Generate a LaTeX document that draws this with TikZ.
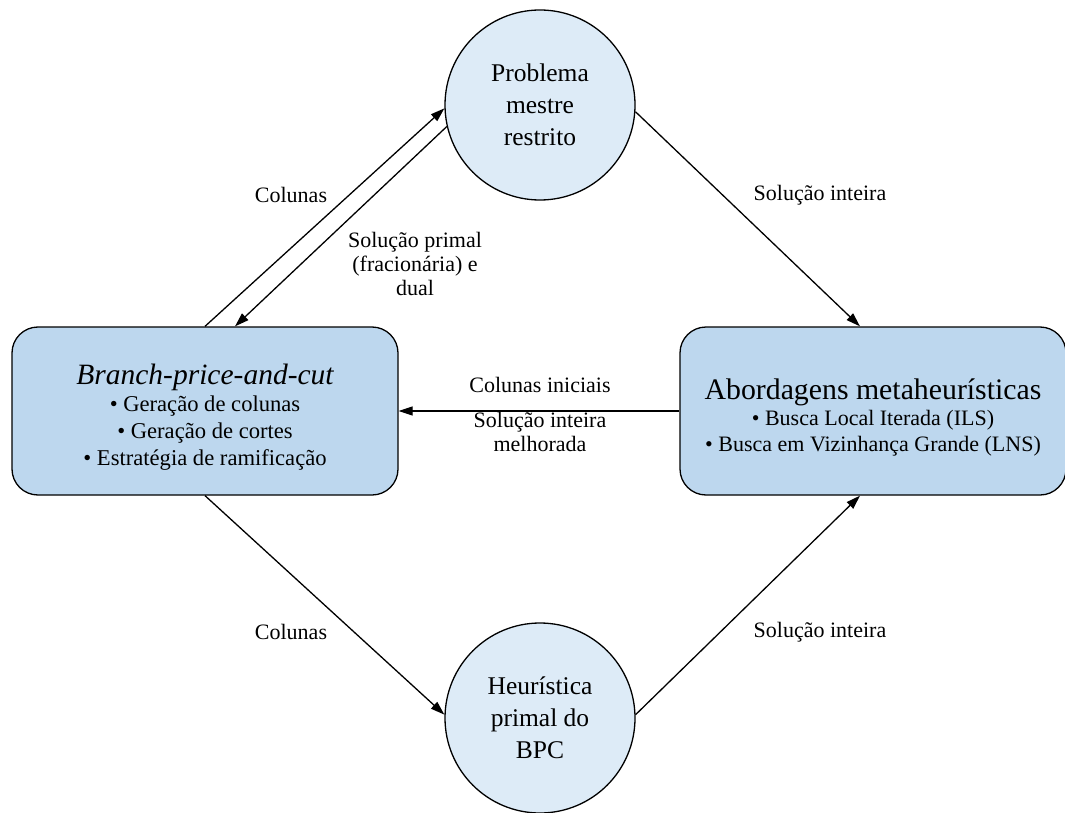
\documentclass[tikz,border=0pt]{standalone}
\usepackage{fontspec}
\setmainfont{Liberation Serif}
\usetikzlibrary{arrows.meta,calc}

\definecolor{boxfill}{HTML}{BDD7EE}
\definecolor{circfill}{HTML}{DDEBF7}

\tikzset{
  circnode/.style={circle, draw=black, line width=1.3pt, fill=circfill,
    minimum size=190pt, inner sep=0pt, align=center,
    font=\fontsize{25.5}{32}\selectfont},
  boxnode/.style={rectangle, rounded corners=26pt, draw=black, line width=1.3pt,
    fill=boxfill, minimum width=386pt, minimum height=168pt, inner sep=0pt,
    align=center},
  boxtext/.style={align=center, inner sep=0pt},
  flow/.style={-{Triangle[length=14pt,width=9pt]}, line width=1.3pt},
  lbl/.style={align=center, inner sep=0pt, font=\fontsize{22}{24}\selectfont},
}

\begin{document}
\begin{tikzpicture}[x=1pt,y=-1pt]
\useasboundingbox (0,0) rectangle (1065,813);

% main blocks
\node[circnode] (rmp) at (540,105) {Problema\\mestre\\restrito};
\node[circnode] (heur) at (540,718) {Heurística\\primal do\\BPC};
\node[boxnode] (bpc) at (205,411) {};
\node[boxtext, font=\fontsize{22.6}{27}\selectfont] (bpctext) at ($(bpc.center)+(0,6)$)
  {{\fontsize{29.5}{30}\selectfont\itshape Branch-price-and-cut}\\
   • Geração de colunas\\ • Geração de cortes\\ • Estratégia de ramificação};
\node[boxnode] (meta) at (873,411) {};
\node[boxtext, font=\fontsize{22}{26}\selectfont] (metatext) at ($(meta.center)+(0,6)$)
  {{\fontsize{29.8}{32}\selectfont Abordagens metaheurísticas}\\
   • Busca Local Iterada (ILS)\\ • Busca em Vizinhança Grande (LNS)};

% connectors
\draw[flow] (bpc.north) -- (rmp.182);
\draw[flow] (rmp.193.5) -- ($(bpc.north)+(30,0)$);
\draw[flow] (rmp.356) -- ($(meta.north)+(-13,0)$);
\draw[flow] (meta.west) -- (bpc.east);
\draw[flow] (bpc.south) -- (heur.178);
\draw[flow] (heur.2) -- ($(meta.south)+(-13,0)$);

% connector labels
\node[lbl] (l1) at (291,195) {Colunas};
\node[lbl] (l2) at (415,264) {Solução primal\\(fracionária) e\\dual};
\node[lbl] (l3) at (820,195) {Solução inteira};
\node[lbl] (l4) at (540,385) {Colunas iniciais};
\node[lbl] (l5) at (540,432) {Solução inteira\\melhorada};
\node[lbl] (l6) at (291,632) {Colunas};
\node[lbl] (l7) at (820,632) {Solução inteira};
\end{tikzpicture}
\end{document}
